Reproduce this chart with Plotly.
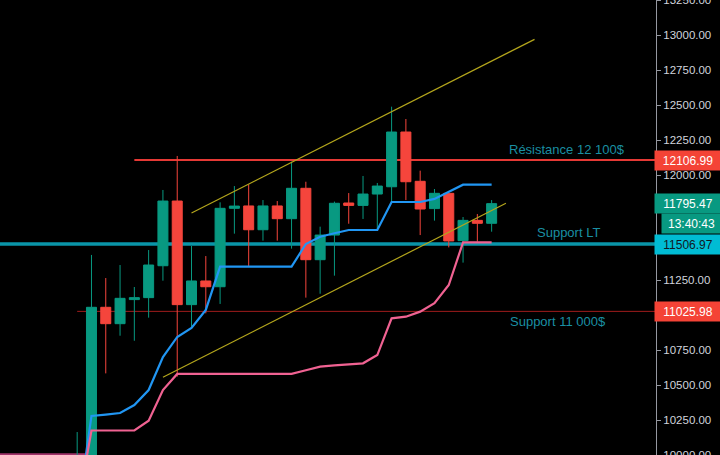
import plotly.graph_objects as go

# ---------------- data ----------------
idx = list(range(30))
opens  = [9850, 9950, 11055, 10938, 11110, 11124, 11352, 11814, 11074, 11243,
          11202, 11762, 11779, 11609, 11779, 11688, 11905, 11395, 11571, 11800,
          11783, 11864, 11916, 12307, 11955, 11760, 11869, 11531, 11676, 11655]
highs  = [10164, 11429, 11264, 11357, 11200, 11464, 11893, 12136, 11493, 11421,
          11805, 11921, 11933, 11821, 11814, 12095, 11952, 11631, 11810, 11871,
          11993, 11943, 12488, 12400, 12031, 11900, 11875, 11700, 11721, 11821]
lows   = [9800, 9900, 10583, 10852, 10816, 10981, 11245, 10560, 10916, 11012,
          11079, 11581, 11350, 11531, 11531, 11474, 11124, 11152, 11281, 11652,
          11686, 11607, 11810, 11821, 11571, 11674, 11483, 11374, 11524, 11595]
closes = [9950, 11055, 10938, 11119, 11124, 11357, 11814, 11074, 11243, 11202,
          11762, 11778, 11609, 11779, 11688, 11905, 11395, 11571, 11798, 11783,
          11864, 11921, 12307, 11952, 11757, 11869, 11529, 11676, 11655, 11795.47]

upper_band = [9560, 10279, 10289, 10300, 10357, 10464, 10700, 10843, 10907, 11036,
              11345, 11345, 11345, 11345, 11345, 11345, 11507, 11559, 11584, 11607,
              11607, 11607, 11807, 11807, 11807, 11829, 11881, 11931, 11931, 11931]
lower_band = [9600, 10175, 10175, 10175, 10175, 10245, 10464, 10579, 10579, 10579,
              10579, 10579, 10579, 10579, 10579, 10579, 10605, 10631, 10640, 10648,
              10655, 10714, 10976, 10988, 11024, 11084, 11214, 11519, 11519, 11519]

resistance_level = 12106.99
support_lt_level = 11506.97
support_11k_level = 11025.98
bottom_level = 10005
last_price = 11795.47
countdown = "13:40:43"

channel_upper = {"x": [8, 32], "y": [11729, 12969]}
channel_lower = {"x": [6, 30], "y": [10555, 11798]}

y_ticks = [10000 + 250 * k for k in range(14)]
hidden_ticks = [11000, 11500, 11750]   # covered by the price labels
y_tick_text = ["" if v in hidden_ticks else f"{v:.2f}" for v in y_ticks]

labels = ["Résistance 12 100$", "Support LT", "Support 11 000$"]

# ---------------- colours ----------------
GREEN = "#089981"
RED = "#f5453c"
TEAL_TXT = "#1a8fa3"

fig = go.Figure()

fig.add_trace(go.Candlestick(
    x=idx, open=opens, high=highs, low=lows, close=closes,
    increasing=dict(line=dict(color=GREEN, width=1), fillcolor=GREEN),
    decreasing=dict(line=dict(color=RED, width=1), fillcolor=RED),
    whiskerwidth=0, showlegend=False, hoverinfo="skip"))

fig.add_trace(go.Scatter(x=idx, y=upper_band, mode="lines",
                         line=dict(color="#2196f3", width=2.2), showlegend=False,
                         hoverinfo="skip"))
fig.add_trace(go.Scatter(x=idx, y=lower_band, mode="lines",
                         line=dict(color="#f06292", width=2.2), showlegend=False,
                         hoverinfo="skip"))

shapes = [
    dict(type="line", xref="x", yref="y", x0=4, x1=60, y0=resistance_level, y1=resistance_level,
         line=dict(color="#e53935", width=2), layer="below"),
    dict(type="line", xref="paper", yref="y", x0=0, x1=1, y0=support_lt_level, y1=support_lt_level,
         line=dict(color="#0a95a8", width=3.5), layer="below"),
    dict(type="line", xref="x", yref="y", x0=0, x1=60, y0=support_11k_level, y1=support_11k_level,
         line=dict(color="#a01c1c", width=1), layer="below"),
    dict(type="line", xref="x", yref="y", x0=-10, x1=0.62, y0=bottom_level, y1=bottom_level,
         line=dict(color="#a0336a", width=2), layer="below"),
    dict(type="line", xref="x", yref="y", x0=channel_upper["x"][0], x1=channel_upper["x"][1],
         y0=channel_upper["y"][0], y1=channel_upper["y"][1],
         line=dict(color="#b4a61c", width=1.2)),
    dict(type="line", xref="x", yref="y", x0=channel_lower["x"][0], x1=channel_lower["x"][1],
         y0=channel_lower["y"][0], y1=channel_lower["y"][1],
         line=dict(color="#b4a61c", width=1.2)),
]

PLOT_W = 656.0
lab_x = 688.0 / PLOT_W
ann = []
FONT = "Liberation Sans"
ann.append(dict(x=34.3, y=resistance_level, xref="x", yref="y", text=labels[0], showarrow=False,
                yshift=11, font=dict(family=FONT, size=13, color=TEAL_TXT)))
ann.append(dict(x=34.4, y=support_lt_level, xref="x", yref="y", text=labels[1], showarrow=False,
                yshift=12, font=dict(family=FONT, size=13, color=TEAL_TXT)))
ann.append(dict(x=33.65, y=support_11k_level, xref="x", yref="y", text=labels[2], showarrow=False,
                yshift=-10.5, font=dict(family=FONT, size=13, color=TEAL_TXT)))


def price_label(val, text, bg, fg, yshift=0, width=63, xc=lab_x):
    return dict(x=xc, y=val, xref="paper", yref="y", text=text, showarrow=False,
                xanchor="center", yanchor="middle", yshift=yshift,
                bgcolor=bg, width=width, height=16, borderpad=1.5,
                font=dict(family=FONT, size=12, color=fg))


ann.append(price_label(resistance_level, f"{resistance_level:.2f}", "#f44336", "#ffffff"))
ann.append(price_label(last_price, f"{last_price:.2f}", GREEN, "#ffffff"))
ann.append(price_label(last_price, countdown, GREEN, "#ffffff", yshift=-20, width=56,
                       xc=691.0 / PLOT_W))
ann.append(price_label(support_lt_level, f"{support_lt_level:.2f}", "#00bcd4", "#131722"))
ann.append(price_label(support_11k_level, f"{support_11k_level:.2f}", "#f44336", "#ffffff"))

fig.update_layout(
    width=720, height=455,
    margin=dict(l=0, r=64, t=0, b=0, autoexpand=False),
    paper_bgcolor="#000000", plot_bgcolor="#000000",
    shapes=shapes, annotations=ann,
    boxgap=0.3, boxgroupgap=0,
    xaxis=dict(range=[-5.4, 40.5], showgrid=False, zeroline=False, showticklabels=False,
               rangeslider=dict(visible=False), fixedrange=True, automargin=False),
    yaxis=dict(range=[10000, 13250], side="right", showgrid=False, zeroline=False,
               tickvals=y_ticks, ticktext=y_tick_text, ticks="outside", ticklen=4,
               tickcolor="#9598a1", showline=True, linecolor="#9598a1", linewidth=1,
               ticklabeloverflow="allow", automargin=False,
               tickfont=dict(family=FONT, size=11.5, color="#d1d4dc")),
)

fig.write_html("out.html", config={"displayModeBar": False},
               post_script="document.body.style.margin='0';document.body.style.background='#000';")
